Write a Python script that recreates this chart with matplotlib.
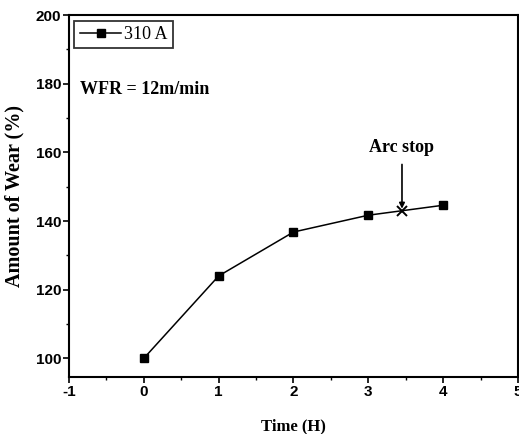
import matplotlib
matplotlib.use("Agg")
import matplotlib.pyplot as plt
from matplotlib.ticker import MultipleLocator

plt.rcParams["axes.unicode_minus"] = False

time_h = [0, 1, 2, 3, 4]
wear = [100, 124, 136.8, 141.7, 144.6]
arc_stop_x = 3.45
arc_stop_y = 142.9
series_label = "310 A"

fig = plt.figure(figsize=(5.19, 4.34), dpi=100)
ax = fig.add_axes([0.133, 0.131, 0.865, 0.834])

ax.plot(time_h, wear, color="black", marker="s", markersize=5.5, linewidth=1.1, label=series_label)
ax.plot([arc_stop_x], [arc_stop_y], marker="x", color="black", markersize=7, markeredgewidth=1.4, linestyle="none")

ax.text(arc_stop_x, 161.5, "Arc stop", ha="center", va="center", fontsize=13,
        fontweight="bold", family="Liberation Serif")
ax.annotate("", xy=(arc_stop_x, 143.6), xytext=(arc_stop_x, 156.5),
            arrowprops=dict(arrowstyle="-|>", color="black", lw=1.2, shrinkA=0, shrinkB=0,
                            mutation_scale=8))

ax.text(0.025, 0.796, "WFR = 12m/min", transform=ax.transAxes, fontsize=13,
        fontweight="bold", family="Liberation Serif", va="center")

ax.set_xlim(-1, 5)
ax.set_ylim(94.5, 200)
ax.xaxis.set_major_locator(MultipleLocator(1))
ax.xaxis.set_minor_locator(MultipleLocator(0.5))
ax.yaxis.set_major_locator(MultipleLocator(20))
ax.yaxis.set_minor_locator(MultipleLocator(10))
ax.tick_params(which="major", direction="out", length=4, width=1.2, labelsize=11, pad=1.5)
ax.tick_params(which="minor", direction="out", length=2.5, width=1.0)
for lab in ax.get_xticklabels() + ax.get_yticklabels():
    lab.set_family("Liberation Sans")
    lab.set_fontweight("bold")
for s in ax.spines.values():
    s.set_linewidth(1.5)

ax.set_xlabel("Time (H)", fontsize=12, fontweight="bold", family="Liberation Serif", labelpad=14)
ax.set_ylabel("Amount of Wear (%)", fontsize=14.5, fontweight="bold", family="Liberation Serif", labelpad=8)

leg = ax.legend(loc="upper left", frameon=True, fancybox=False, edgecolor="black",
                handlelength=2.3, borderpad=0.3, borderaxespad=0.3, handletextpad=0.15,
                prop={"family": "Liberation Serif", "size": 13})
leg.get_frame().set_linewidth(1.3)

fig.savefig("out.png", dpi=100)
